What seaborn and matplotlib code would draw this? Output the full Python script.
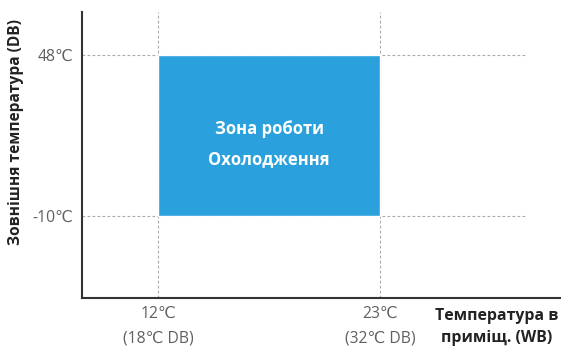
import matplotlib
matplotlib.use('Agg')
import matplotlib.pyplot as plt
import seaborn as sns

# дані
x_ticks = [12, 23]
x_labels = ['12℃\n(18℃ DB)', '23℃\n(32℃ DB)']
y_ticks = [-10, 48]
y_labels = ['-10℃', '48℃']
zone_x = [12, 23]
zone_y = [-10, 48]
zone_text = 'Зона роботи\nОхолодження'

sns.set_style('white')
plt.rcParams['font.family'] = ['Open Sans', 'DejaVu Sans']

fig = plt.figure(figsize=(5.61, 3.47), dpi=100)
ax = fig.add_axes([0.1462, 0.1412, 0.8538, 0.8242])

ax.set_xlim(8.23, 31.97)
ax.set_ylim(-39.5, 63.5)

# зона роботи
ax.bar(zone_x[0], zone_y[1] - zone_y[0], bottom=zone_y[0],
       width=zone_x[1] - zone_x[0], align='edge', color='#2aa0dc', zorder=2)
ax.text(sum(zone_x) / 2, sum(zone_y) / 2 - 3.1, zone_text, ha='center', va='center',
        color='white', fontsize=12, fontweight='bold', linespacing=1.9, zorder=3)

# пунктирні лінії
for x in x_ticks:
    ax.axvline(x, color='#aaaaaa', lw=0.8, ls=(0, (2.5, 2)), zorder=1)
for y in y_ticks:
    ax.hlines(y, 8.23, 30.23, color='#aaaaaa', lw=0.8, ls=(0, (2.5, 2)), zorder=1)

ax.set_xticks(x_ticks)
ax.set_xticklabels(x_labels, fontsize=11.3, color='#606060', linespacing=1.7)
ax.set_yticks(y_ticks)
ax.set_yticklabels(y_labels, fontsize=11.3, color='#606060')
ax.tick_params(length=0, pad=6)

sns.despine(ax=ax)
for s in ['left', 'bottom']:
    ax.spines[s].set_color('#333333')
    ax.spines[s].set_linewidth(1.5)

ax.set_ylabel('Зовнішня температура (DB)', fontsize=11.2, fontweight='bold',
              color='#222222')
ax.yaxis.set_label_coords(-0.121, 0.58)

fig.text(0.886, 0.058, 'Температура в\nприміщ. (WB)', ha='center', va='center',
         fontsize=11.4, fontweight='bold', color='#222222', linespacing=1.55)

plt.savefig('out.png', dpi=100)
